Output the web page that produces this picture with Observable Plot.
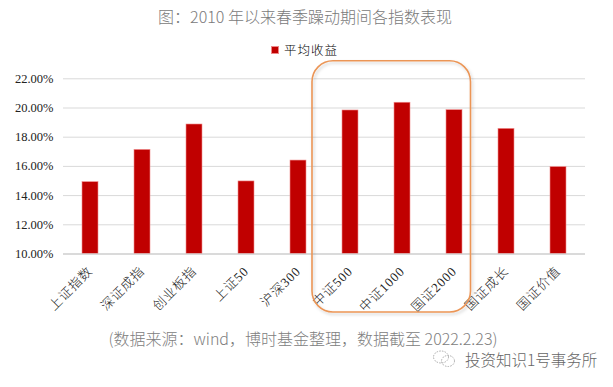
<!DOCTYPE html>
<html>
<head>
<meta charset="utf-8">
<script src="https://cdn.jsdelivr.net/npm/d3@7"></script>
<script src="https://cdn.jsdelivr.net/npm/@observablehq/plot@0.6"></script>
<style>
  html, body { margin: 0; padding: 0; background: #fff; }
  #wrap { position: relative; width: 613px; height: 387px; overflow: hidden; }
  #title { position: absolute; left: 0; top: 5px; width: 610px; text-align: center;
    font: 300 16px "Noto Sans CJK SC", "Noto Sans", sans-serif; color: #7a7a7a; line-height: 22px; }
  #legend { position: absolute; left: 271px; top: 42px; font: 300 12.5px "Noto Sans CJK SC", sans-serif;
    color: #000; line-height: 16px; letter-spacing: 1px; display: flex; align-items: center; }
  #legend .sw { width: 6px; height: 6px; background: #C00000; border: 0.5px solid #e88; margin-right: 5px; }
  #plot { position: absolute; left: 0; top: 0; }
  #foot { position: absolute; left: 0; top: 327px; width: 606px; text-align: center;
    font: 300 16px "Noto Sans CJK SC", sans-serif; color: #808080; line-height: 22px; }
  #mark { position: absolute; left: 432px; top: 348px; font: 300 15.5px "Noto Sans CJK SC", sans-serif;
    color: #666; line-height: 22px; display: flex; align-items: center; }
  #mark .ic { width: 24px; height: 18px; margin-right: 9px; }
  g[aria-label="x-axis tick label"] text { letter-spacing: 0.9px; font-weight: 300; }
</style>
</head>
<body>
<div id="wrap">
  <div id="plot"></div>
  <div id="title"></div>
  <div id="legend"><span class="sw"></span><span id="legtext"></span></div>
  <div id="foot"></div>
  <div id="mark"><svg class="ic" viewBox="0 0 24 18"><g fill="none" stroke="#aaa" stroke-width="1" stroke-dasharray="1.5 1.2"><ellipse cx="9" cy="7" rx="7.5" ry="6"/><ellipse cx="16" cy="11" rx="6.5" ry="5.5"/></g></svg><span id="marktext"></span></div>
</div>
<script>
const titleText = "图：2010 年以来春季躁动期间各指数表现";
const seriesName = "平均收益";
const footText = "(数据来源：wind，博时基金整理，数据截至 2022.2.23)";
const watermark = "投资知识1号事务所";

const categories = ["上证指数", "深证成指", "创业板指", "上证50", "沪深300", "中证500", "中证1000", "国证2000", "国证成长", "国证价值"];
const values = [14.92, 17.13, 18.87, 14.97, 16.40, 19.83, 20.36, 19.85, 18.57, 15.95];
const yTicks = [10, 12, 14, 16, 18, 20, 22];
const highlightFrom = "中证500";
const highlightTo = "国证2000";
const highlightTop = 23.2;

document.getElementById("title").textContent = titleText;
document.getElementById("legtext").textContent = seriesName;
document.getElementById("foot").textContent = footText;
document.getElementById("marktext").textContent = watermark;

const data = categories.map((c, i) => ({ name: c, value: values[i] }));

const chart = Plot.plot({
  width: 613,
  height: 387,
  marginLeft: 63,
  marginRight: 28,
  marginTop: 78.3,
  marginBottom: 133.5,
  style: { fontFamily: "'Liberation Serif', 'Noto Sans CJK SC', serif", background: "transparent", overflow: "visible" },
  x: { domain: categories, paddingInner: 0.69, paddingOuter: 0.345, label: null },
  y: { domain: [10, 22], label: null },
  marks: [
    Plot.gridY(yTicks, { stroke: "#d9d9d9", strokeOpacity: 1, strokeWidth: 1 }),
    Plot.barY(data, { x: "name", y1: 10, y2: "value", fill: "#C00000", stroke: "#f08c8c", strokeWidth: 0.6 }),
    Plot.ruleY([10], { stroke: "#c8c8c8", strokeWidth: 1 }),
    Plot.axisY(yTicks, { tickSize: 0, tickPadding: 10, fontSize: 12.5, fill: "#222",
      tickFormat: d => d.toFixed(2) + "%", label: null }),
    Plot.axisX({ tickSize: 0, tickPadding: 15, tickRotate: -45, fontSize: 13, fill: "#222", label: null })
  ]
});
document.getElementById("plot").appendChild(chart);

// highlight annotation drawn from the chart's own scales
(function () {
  const xs = chart.scale("x"), ys = chart.scale("y");
  const bw = xs.bandwidth, step = xs.step;
  const x0 = xs.apply(highlightFrom) - (step - bw) / 2 - 12;
  const x1 = xs.apply(highlightTo) + bw + (step - bw) / 2 - 9.5;
  const y0 = ys.apply(highlightTop);
  const y1 = ys.apply(10) + 58.5;
  const svg = d3.select(chart);
  const defs = svg.append("defs");
  const f = defs.append("filter").attr("id", "sh").attr("x", "-10%").attr("y", "-10%").attr("width", "130%").attr("height", "130%");
  f.append("feDropShadow").attr("dx", 1.5).attr("dy", 2).attr("stdDeviation", 1.8).attr("flood-color", "#000").attr("flood-opacity", 0.18);
  svg.append("rect")
    .attr("x", x0).attr("y", y0).attr("width", x1 - x0).attr("height", y1 - y0)
    .attr("rx", 21).attr("ry", 21)
    .attr("fill", "none").attr("stroke", "#EB9556").attr("stroke-width", 1.6)
    .attr("filter", "url(#sh)");
})();
</script>
</body>
</html>
